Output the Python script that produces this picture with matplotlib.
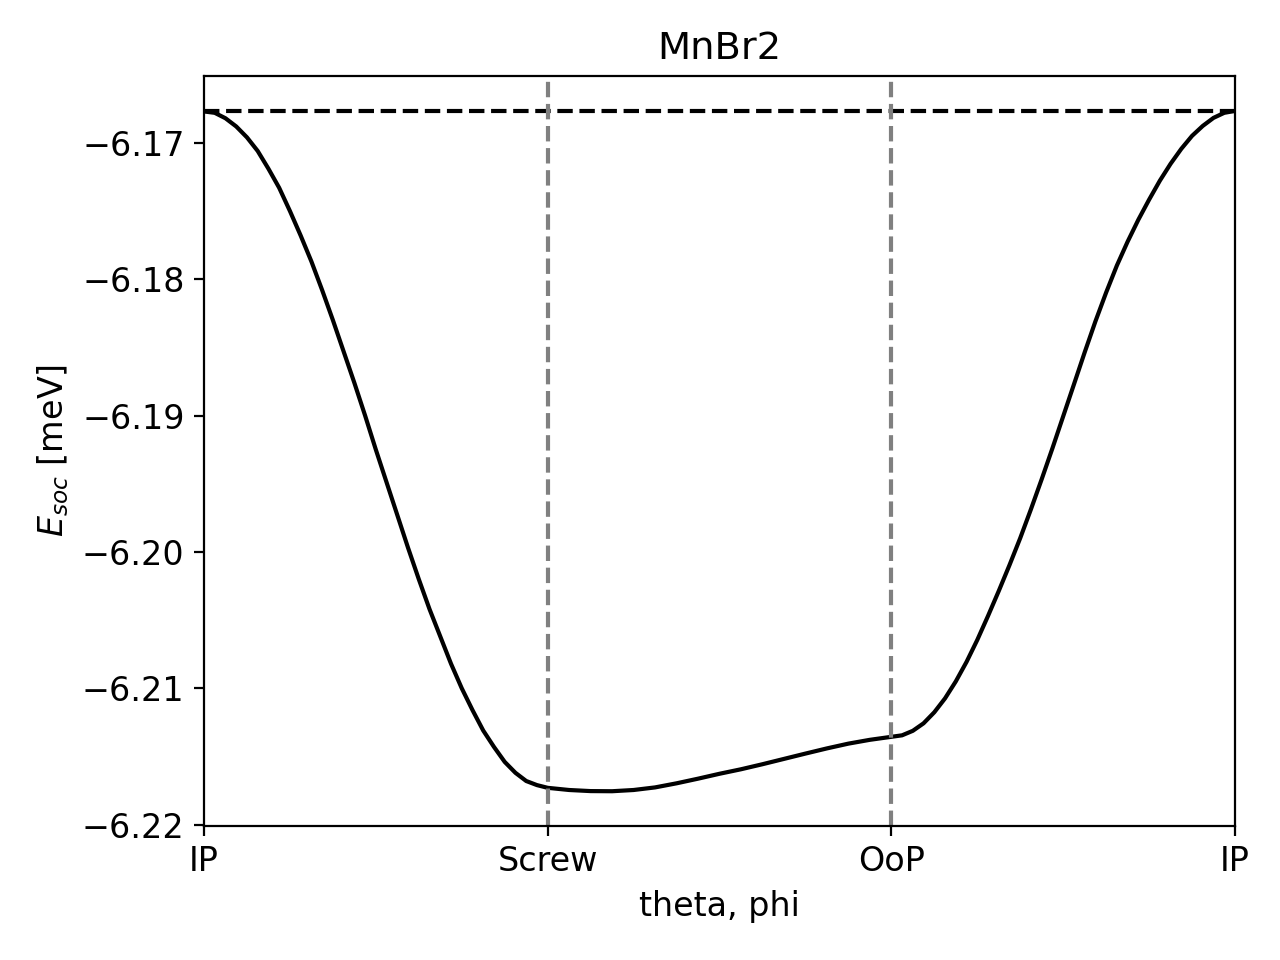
import matplotlib
matplotlib.use("Agg")
import matplotlib.pyplot as plt
import numpy as np

plt.rcParams["font.size"] = 12

# Segment 1: IP -> Screw (x in units of one segment)
x_seg1 = [k / 32 for k in range(33)]
e_seg1 = [-6.1677, -6.1678, -6.1682, -6.1688, -6.1696, -6.1706, -6.1719, -6.1733,
          -6.1750, -6.1768, -6.1787, -6.1808, -6.1830, -6.1853, -6.1876, -6.1900,
          -6.1925, -6.1949, -6.1973, -6.1997, -6.2020, -6.2042, -6.2062, -6.2082,
          -6.2100, -6.2116, -6.2131, -6.2143, -6.2154, -6.2162, -6.2168, -6.2171,
          -6.2173]

# Segment 2: Screw -> OoP
x_seg2 = [1 + k / 16 for k in range(17)]
e_seg2 = [-6.21731, -6.21746, -6.21754, -6.21755, -6.21746, -6.21727, -6.21697, -6.21663,
          -6.21627, -6.21594, -6.21557, -6.21518, -6.21479, -6.21441, -6.21406, -6.21378,
          -6.21356]

# Segment 3: OoP -> IP
x_seg3 = [2 + k / 32 for k in range(33)]
e_seg3 = [-6.21356, -6.21345, -6.21312, -6.21257, -6.21176, -6.21074, -6.20950, -6.20807,
          -6.20646, -6.20470, -6.20287, -6.20097, -6.19899, -6.19687, -6.19467, -6.19240,
          -6.19006, -6.18772, -6.18537, -6.18310, -6.18098, -6.17900, -6.17725, -6.17564,
          -6.17417, -6.17278, -6.17154, -6.17044, -6.16949, -6.16876, -6.16817, -6.16780,
          -6.16766]

tick_pos = [0, 1, 2, 3]
tick_labels = ["IP", "Screw", "OoP", "IP"]
y_ticks = [-6.17, -6.18, -6.19, -6.20, -6.21, -6.22]

x = np.concatenate([x_seg1, x_seg2[1:], x_seg3[1:]])
e = np.concatenate([e_seg1, e_seg2[1:], e_seg3[1:]])

fig, ax = plt.subplots(figsize=(6.4, 4.8), dpi=200)
fig.subplots_adjust(left=204/1280, right=1235/1280, top=1-76/960, bottom=1-826/960)

ax.plot(x, e, color="black")
ax.axhline(max(e), color="black", linestyle="--")
for p in tick_pos[1:3]:
    ax.axvline(p, color="gray", linestyle="--")

ax.set_xlim(0, 3)
ax.set_xticks(tick_pos)
ax.set_xticklabels(tick_labels)
ax.set_yticks(y_ticks)
ax.set_ylim(-6.2201, -6.1651)
ax.set_xlabel("theta, phi")
ax.set_ylabel(r"$E_{soc}$ [meV]")
ax.set_title("MnBr2", fontsize=13.8)

fig.savefig("out.png", dpi=200)
